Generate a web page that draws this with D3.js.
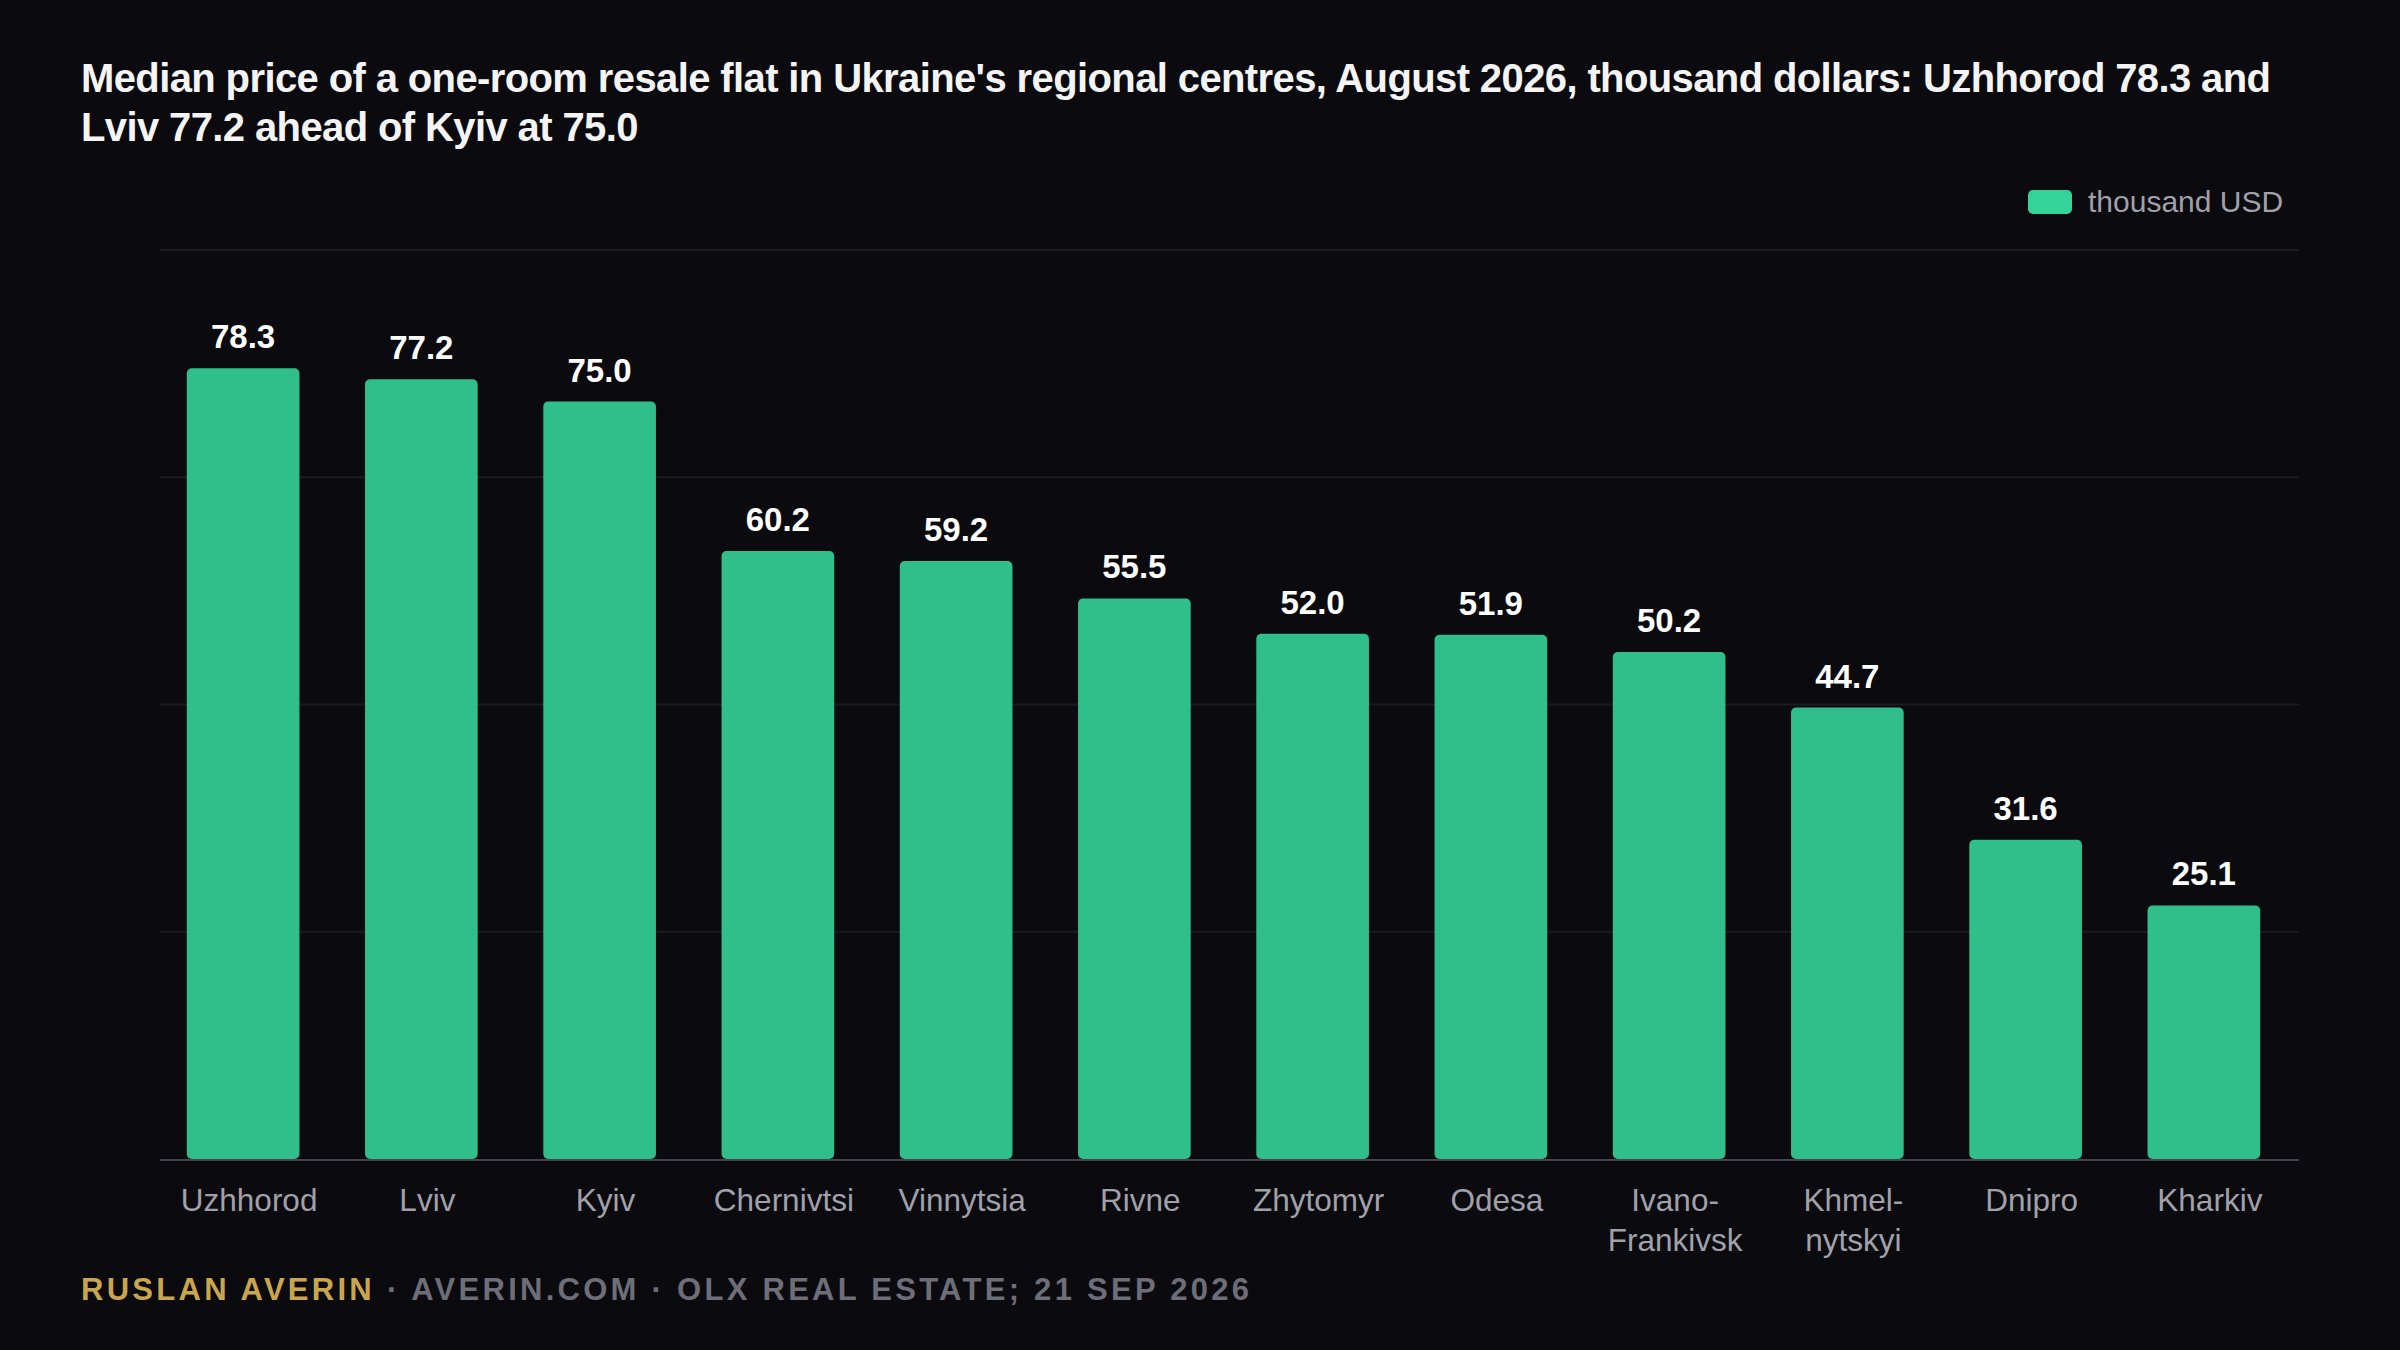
<!DOCTYPE html>
<html>
<head>
<meta charset="utf-8">
<script src="https://cdn.jsdelivr.net/npm/d3@7"></script>
<style>
  html, body { margin: 0; padding: 0; background: #0a0a0f; }
  svg { display: block; }
  text { font-family: "Liberation Sans", Arial, Helvetica, sans-serif; }
</style>
</head>
<body>
<svg id="chart" width="2400" height="1350"></svg>
<script>
const cities = ["Uzhhorod", "Lviv", "Kyiv", "Chernivtsi", "Vinnytsia", "Rivne", "Zhytomyr", "Odesa", "Ivano-Frankivsk", "Khmelnytskyi", "Dnipro", "Kharkiv"];
const cityLabels = [["Uzhhorod"], ["Lviv"], ["Kyiv"], ["Chernivtsi"], ["Vinnytsia"], ["Rivne"], ["Zhytomyr"], ["Odesa"], ["Ivano-", "Frankivsk"], ["Khmel-", "nytskyi"], ["Dnipro"], ["Kharkiv"]];
const prices = [78.3, 77.2, 75.0, 60.2, 59.2, 55.5, 52.0, 51.9, 50.2, 44.7, 31.6, 25.1];
const gridValues = [0, 22.5, 45, 67.5, 90];
const titleLines = ["Median price of a one-room resale flat in Ukraine's regional centres, August 2026, thousand dollars: Uzhhorod 78.3 and", "Lviv 77.2 ahead of Kyiv at 75.0"];
const legendLabel = "thousand USD";
const footerAuthor = "RUSLAN AVERIN";
const footerRest = " · AVERIN.COM · OLX REAL ESTATE; 21 SEP 2026";

(function () {
const svg = d3.select("#chart");
svg.append("rect").attr("width", 2400).attr("height", 1350).attr("fill", "#0a0a0f");

const pLeft = 160, pRight = 2299, pTop = 250, pBottom = 1159;

const x = d3.scaleBand().domain(cities).range([pLeft, pRight]).paddingInner(0).paddingOuter(0);
const y = d3.scaleLinear().domain([0, 90]).range([pBottom, pTop]);

// title
const title = svg.append("g");
titleLines.forEach((t, i) => {
  title.append("text")
    .attr("x", 81).attr("y", 92 + i * 49)
    .attr("fill", "#f4f4f5")
    .attr("font-size", 40).attr("font-weight", 700)
    .text(t);
});
{
  const n1 = title.select("text").node();
  const w = n1.getComputedTextLength();
  const ls = (2190 - w) / (titleLines[0].length - 1);
  title.selectAll("text").attr("letter-spacing", ls);
}

// legend
svg.append("rect").attr("x", 2028).attr("y", 190).attr("width", 44).attr("height", 24).attr("rx", 5)
  .attr("fill", "#34d399");
svg.append("text").attr("x", 2088).attr("y", 212).attr("font-size", 30).attr("fill", "#a1a1aa").text(legendLabel);

// gridlines
svg.append("g").selectAll("line").data(gridValues.filter(v => v > 0)).join("line")
  .attr("x1", pLeft).attr("x2", pRight)
  .attr("y1", d => y(d)).attr("y2", d => y(d))
  .attr("stroke", "#1b1b21").attr("stroke-width", 2);

// bars
const bw = x.bandwidth() * 0.632;
const shift = -6;
svg.append("g").selectAll("rect").data(cities).join("rect")
  .attr("x", d => x(d) + x.bandwidth() / 2 - bw / 2 + shift)
  .attr("y", (d, i) => y(prices[i]))
  .attr("width", bw)
  .attr("height", (d, i) => y(0) - y(prices[i]))
  .attr("rx", 5)
  .attr("fill", "#34d399").attr("fill-opacity", 0.9);

// value labels
svg.append("g").selectAll("text").data(cities).join("text")
  .attr("x", d => x(d) + x.bandwidth() / 2 + shift)
  .attr("y", (d, i) => y(prices[i]) - 20)
  .attr("text-anchor", "middle")
  .attr("font-size", 33).attr("font-weight", 700)
  .attr("fill", "#ffffff")
  .text((d, i) => prices[i].toFixed(1));

// axis baseline
svg.append("line").attr("x1", pLeft).attr("x2", pRight).attr("y1", y(0) + 1).attr("y2", y(0) + 1)
  .attr("stroke", "#45454d").attr("stroke-width", 2);

// x labels
const xl = svg.append("g").selectAll("text").data(cities).join("text")
  .attr("x", d => x(d) + x.bandwidth() / 2)
  .attr("y", 1211)
  .attr("text-anchor", "middle")
  .attr("font-size", 31.5)
  .attr("fill", "#a1a1aa");
xl.each(function(d, i) {
  const t = d3.select(this);
  cityLabels[i].forEach((line, j) => {
    t.append("tspan").attr("x", x(d) + x.bandwidth() / 2).attr("dy", j === 0 ? 0 : 40).text(line);
  });
});

// footer
const footer = svg.append("text").attr("x", 81).attr("y", 1300)
  .attr("font-size", 31).attr("font-weight", 700);
footer.append("tspan").attr("fill", "#c9a54e").text(footerAuthor);
footer.append("tspan").attr("fill", "#6e6e78").text(footerRest);
{
  const w = footer.node().getComputedTextLength();
  const n = (footerAuthor + footerRest).length;
  footer.attr("letter-spacing", (1168 - w) / (n - 1));
}
})();
</script>
</body>
</html>
